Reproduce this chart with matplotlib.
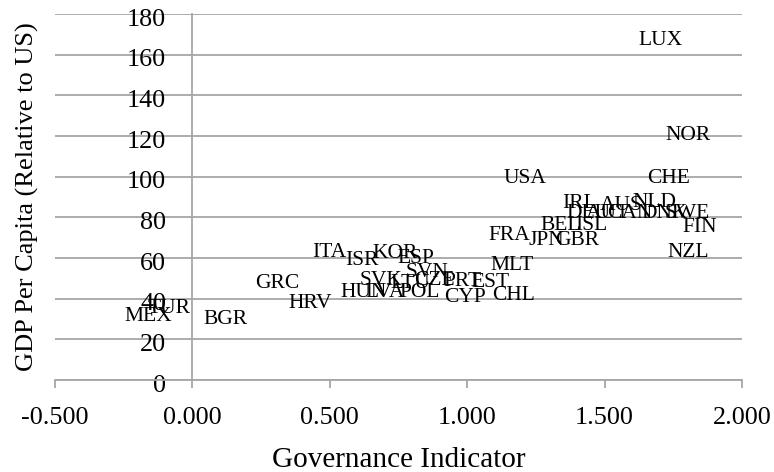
import matplotlib
matplotlib.use("Agg")
import matplotlib.pyplot as plt
from matplotlib.transforms import ScaledTranslation

# Country codes with governance indicator (x) and GDP per capita relative to US (y)
COUNTRIES = ["LUX", "NOR", "USA", "CHE", "IRL", "AUS", "NLD", "DEU", "AUT", "CAN",
             "DNK", "SWE", "FIN", "BEL", "ISL", "JPN", "GBR", "FRA", "MLT", "NZL",
             "EST", "PRT", "CYP", "CHL", "ITA", "ISR", "KOR", "ESP", "SVN", "SVK",
             "CZE", "LTU", "HUN", "LVA", "POL", "GRC", "HRV", "BGR", "MEX", "TUR"]
GOVERNANCE = [1.702, 1.803, 1.210, 1.731, 1.407, 1.560, 1.683, 1.443, 1.512, 1.592,
              1.720, 1.800, 1.847, 1.341, 1.450, 1.287, 1.400, 1.152, 1.163, 1.803,
              1.083, 0.981, 0.992, 1.170, 0.497, 0.617, 0.737, 0.814, 0.854, 0.686,
              0.879, 0.792, 0.624, 0.701, 0.828, 0.308, 0.428, 0.119, -0.162, -0.085]
GDP_REL_US = [167.1, 120.4, 99.3, 99.3, 87.0, 86.0, 87.5, 82.1, 82.1, 82.1,
              82.1, 82.1, 75.2, 76.2, 76.2, 68.8, 68.8, 71.3, 56.5, 62.9,
              48.2, 48.6, 40.8, 41.8, 62.9, 59.0, 62.4, 60.0, 53.1, 49.1,
              49.1, 47.7, 42.8, 42.8, 42.8, 47.7, 37.8, 30.0, 31.0, 35.4]

XTICKS = [-0.5, 0.0, 0.5, 1.0, 1.5, 2.0]
YTICKS = [0, 20, 40, 60, 80, 100, 120, 140, 160, 180]

GRID = "#a6a6a6"
FONT = "Liberation Serif"

plt.rcParams["font.family"] = FONT

fig = plt.figure(figsize=(7.74, 4.72), dpi=100)
ax = fig.add_axes([0.0711, 0.1949, 0.8876, 0.7754])

ax.set_xlim(-0.5, 2.0)
ax.set_ylim(0, 180)

# data labels only, no markers (as in the original spreadsheet chart)
for name, x, y in zip(COUNTRIES, GOVERNANCE, GDP_REL_US):
    ax.text(x, y, name, ha="center", va="center", fontsize=15.5, color="black")

ax.set_xticks(XTICKS)
ax.set_xticklabels([f"{v:.3f}" for v in XTICKS])
ax.set_yticks(YTICKS)
ax.set_yticklabels([str(v) for v in YTICKS])

ax.grid(axis="y", color=GRID, linewidth=1.3)
ax.set_axisbelow(True)

ax.spines["top"].set_visible(False)
ax.spines["right"].set_visible(False)
ax.spines["left"].set_position(("data", 0))
ax.spines["left"].set_color(GRID)
ax.spines["left"].set_linewidth(1.3)
ax.spines["bottom"].set_color(GRID)
ax.spines["bottom"].set_linewidth(1.3)

ax.tick_params(axis="x", direction="out", length=6, width=1.3, color=GRID,
               labelsize=18.8, pad=13.5)
ax.tick_params(axis="y", length=0, labelsize=18.8, pad=19)

# y tick labels sit a touch below their gridlines in the reference
shift = ScaledTranslation(0, -3 / 100, fig.dpi_scale_trans)
for lbl in ax.get_yticklabels():
    lbl.set_transform(lbl.get_transform() + shift)

ax.set_xlabel("Governance Indicator", fontsize=21, labelpad=13)
ax.set_ylabel("GDP Per Capita (Relative to US)", fontsize=19, va="center")
ax.yaxis.set_label_coords(-0.040, 0.5)

fig.savefig("out.png", dpi=100)
